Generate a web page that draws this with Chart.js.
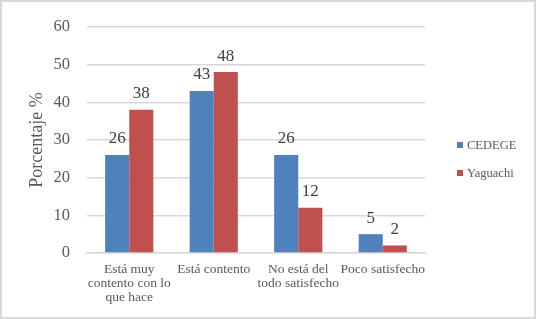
<!DOCTYPE html>
<html><head><meta charset="utf-8">
<script src="https://cdn.jsdelivr.net/npm/chart.js@4/dist/chart.umd.min.js"></script>
<style>html,body{margin:0;padding:0;background:#fff}#c{display:block}</style>
</head><body>
<canvas id="c" width="536" height="319"></canvas>
<script>
const categories = [["Está muy","contento con lo","que hace"],"Está contento",["No está del","todo satisfecho"],"Poco satisfecho"];
const seriesNames = ["CEDEGE","Yaguachi"];
const cedege = [26,43,26,5];
const yaguachi = [38,48,12,2];
const colors = ["#4F81BD","#C0504D"];
const yTicks = {min:0,max:60,step:10};
const FONT = "'Liberation Serif', 'DejaVu Serif', serif";

const borderPlugin = {
  id:'border',
  beforeDraw(chart){
    const c=chart.ctx; c.save(); c.fillStyle='#fff'; c.fillRect(0,0,chart.width,chart.height);
    c.strokeStyle='#d9d9d9'; c.lineWidth=2; c.strokeRect(1,1,chart.width-2,chart.height-2); c.restore();
  },
  afterDraw(chart){
    const c=chart.ctx; c.save();
    c.font = "17px "+FONT; c.fillStyle='#404040'; c.textAlign='center'; c.textBaseline='middle';
    chart.data.datasets.forEach((ds,i)=>{
      chart.getDatasetMeta(i).data.forEach((bar,j)=>{
        c.fillText(String(ds.data[j]), bar.x, bar.y-16);
      });
    });
    c.font = "12.5px "+FONT; c.textAlign='left';
    const ys=[145,173];
    seriesNames.forEach((n,i)=>{
      c.fillStyle=colors[i]; c.fillRect(457,ys[i]-3,6,6);
      c.fillStyle='#595959'; c.fillText(n,467,ys[i]+0.5);
    });
    c.restore();
  }
};

new Chart(document.getElementById('c'),{
  type:'bar',
  data:{labels:categories,datasets:[
    {label:seriesNames[0],data:cedege,backgroundColor:colors[0],categoryPercentage:0.57,barPercentage:1},
    {label:seriesNames[1],data:yaguachi,backgroundColor:colors[1],categoryPercentage:0.57,barPercentage:1}
  ]},
  options:{
    responsive:false,animation:false,
    layout:{padding:{top:24,right:111,bottom:0,left:0}},
    plugins:{legend:{display:false},tooltip:{enabled:false}},
    scales:{
      x:{
        grid:{display:false,drawTicks:false},
        border:{display:true,color:'#d9d9d9',width:1.5},
        ticks:{font:{family:FONT,size:13.5,lineHeight:1.05},color:'#595959',padding:9,maxRotation:0,autoSkip:false},
        afterFit(s){s.height=66;}
      },
      y:{
        min:yTicks.min,max:yTicks.max,
        ticks:{stepSize:yTicks.step,font:{family:FONT,size:16.5},color:'#595959',padding:17},
        grid:{color:'#d9d9d9',lineWidth:1.5,drawTicks:false},
        border:{display:false},
        title:{display:true,text:'Porcentaje %',font:{family:FONT,size:18},color:'#595959',padding:{top:26,bottom:0}},
        afterFit(s){s.width=87;}
      }
    }
  },
  plugins:[borderPlugin]
});
</script>
</body></html>
